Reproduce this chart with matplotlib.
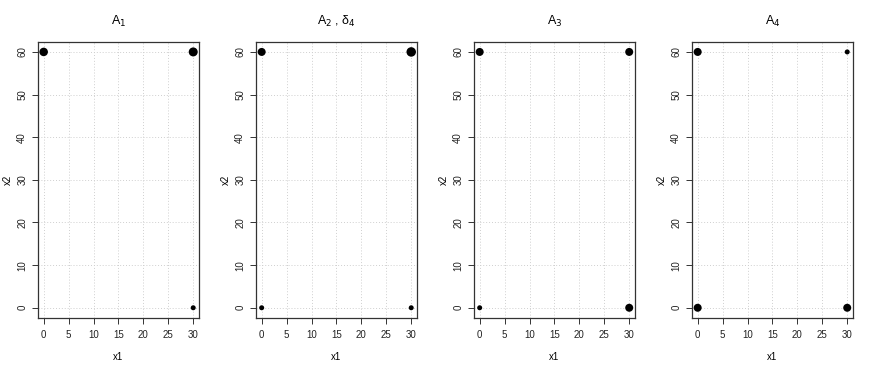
import matplotlib
matplotlib.use("Agg")
import matplotlib.pyplot as plt
import numpy as np

plt.rcParams['font.family'] = ['Liberation Sans', 'DejaVu Sans']

titles = [r"A$_1$", r"A$_2$ , δ$_4$", r"A$_3$", r"A$_4$"]
x1_pts = [[0, 30, 30], [0, 30, 0, 30], [0, 30, 0, 30], [0, 30, 0, 30]]
x2_pts = [[60, 60, 0], [60, 60, 0, 0], [60, 60, 0, 0], [60, 60, 0, 0]]
# point diameters (pixels)
diam = [[8.5, 9, 5], [8, 9.5, 5, 5], [8, 8, 5, 8], [8, 5, 8, 8]]
xticks = [0, 5, 10, 15, 20, 25, 30]
yticks = [0, 10, 20, 30, 40, 50, 60]

W, H = 872, 371
fig = plt.figure(figsize=(W / 100, H / 100), dpi=100)
lefts = [37.7, 255.7, 473.7, 691.7]
aw = 161.5
top, bot = 41.7, 318.0
for i in range(4):
    ax = fig.add_axes([lefts[i] / W, 1 - bot / H, aw / W, (bot - top) / H])
    ax.set_xlim(-1.2, 31.2)
    ax.set_ylim(-2.4, 62.4)
    for gx in xticks:
        ax.axvline(gx, color='#cfcfcf', lw=0.7, ls=(0, (1, 2)), zorder=0)
    for gy in yticks:
        ax.axhline(gy, color='#cfcfcf', lw=0.7, ls=(0, (1, 2)), zorder=0)
    s = [(d * 0.72) ** 2 for d in diam[i]]
    ax.scatter(x1_pts[i], x2_pts[i], s=s, color='black', zorder=3, linewidths=0)
    ax.set_xticks(xticks)
    ax.set_yticks(yticks)
    ax.set_yticklabels([str(v) for v in yticks], rotation=90, va='center')
    ax.tick_params(labelsize=7, length=4, width=0.7, color='#333333', labelcolor='#222222', pad=5)
    ax.tick_params(axis='y', pad=3.5)
    for sp in ax.spines.values():
        sp.set_color('#333333')
        sp.set_linewidth(0.9)
    ax.set_title(titles[i], fontsize=9, pad=12)
    ax.set_xlabel("x1", fontsize=7, labelpad=8)
    ax.set_ylabel("x2", fontsize=7)
    ax.yaxis.label.set_verticalalignment('center')
    ax.yaxis.set_label_coords(-30.0 / aw, 0.5)

fig.savefig("out.png", dpi=100)
